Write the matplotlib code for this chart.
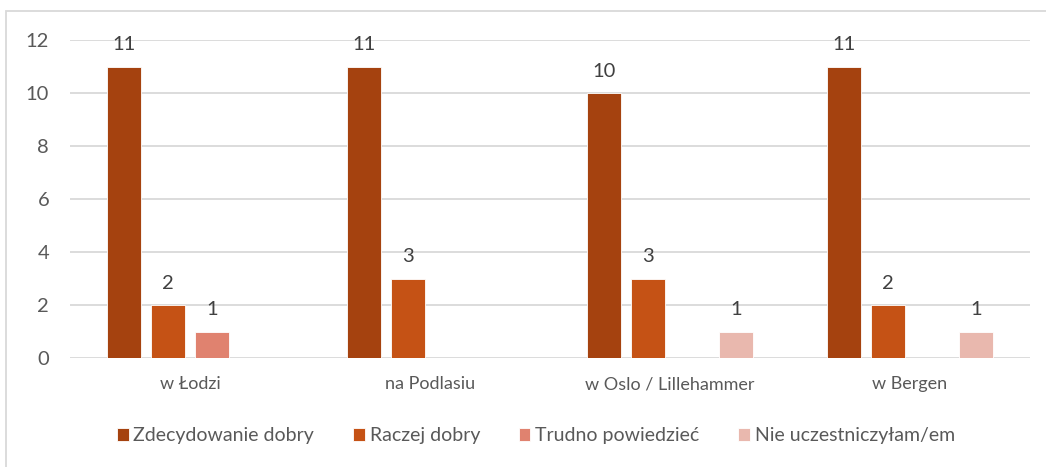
import matplotlib
matplotlib.use("Agg")
import matplotlib.pyplot as plt
import numpy as np
from matplotlib.patches import Rectangle

categories = ["w Łodzi", "na Podlasiu", "w Oslo / Lillehammer", "w Bergen"]
series_names = ["Zdecydowanie dobry", "Raczej dobry", "Trudno powiedzieć", "Nie uczestniczyłam/em"]
zdecydowanie = [11, 11, 10, 11]
raczej = [2, 3, 3, 2]
trudno = [1, 0, 0, 0]
nie_uczestniczyl = [0, 0, 1, 1]
yticks = [0, 2, 4, 6, 8, 10, 12]

series = [zdecydowanie, raczej, trudno, nie_uczestniczyl]
colors = ["#A5420F", "#C55215", "#E0826F", "#E9B8AE"]

plt.rcParams['font.family'] = ['Lato', 'DejaVu Sans']
text_color = "#595959"

fig = plt.figure(figsize=(10.46, 4.67), dpi=100)
ax = fig.add_axes([70/1046, 1-358/467, 960/1046, 318/467])

x = np.arange(len(categories))
width = 34/240
step = 44/240
offsets = (np.arange(4) - 1.5) * step

for i, (vals, col, name) in enumerate(zip(series, colors, series_names)):
    bars = ax.bar(x + offsets[i], vals, width, color=col, label=name,
                  edgecolor="white", linewidth=0.6, zorder=3)
    for b, v in zip(bars, vals):
        if v > 0:
            ax.text(b.get_x() + b.get_width()/2, v + 0.5, str(v),
                    ha="center", va="bottom", fontsize=14.5, color="#404040", zorder=4)

ax.set_xlim(-0.5, len(categories) - 0.5)
ax.set_ylim(0, 12)
ax.set_yticks(yticks)
ax.set_yticklabels([str(t) for t in yticks], fontsize=14.5, color=text_color)
ax.set_xticks(x)
ax.set_xticklabels(categories, fontsize=13, color=text_color)
ax.tick_params(axis='both', length=0)
ax.tick_params(axis='y', pad=15)
ax.tick_params(axis='x', pad=13)
ax.grid(axis='y', color="#D9D9D9", linewidth=1.3, zorder=0)
for s in ax.spines.values():
    s.set_visible(False)

leg = fig.legend(loc="center", bbox_to_anchor=(536/1046, 1-436/467), ncol=4, frameon=False,
                 fontsize=14, handlelength=0.6, handleheight=0.6, handletextpad=0.25,
                 columnspacing=2.0)
for t in leg.get_texts():
    t.set_color(text_color)

fig.patches.append(Rectangle((5.5/1046, -0.01), 1.05, 1-(10.5/467)+0.01, transform=fig.transFigure,
                             fill=False, edgecolor="#D9D9D9", linewidth=1.3))

fig.savefig("out.png", dpi=100, facecolor="white")
